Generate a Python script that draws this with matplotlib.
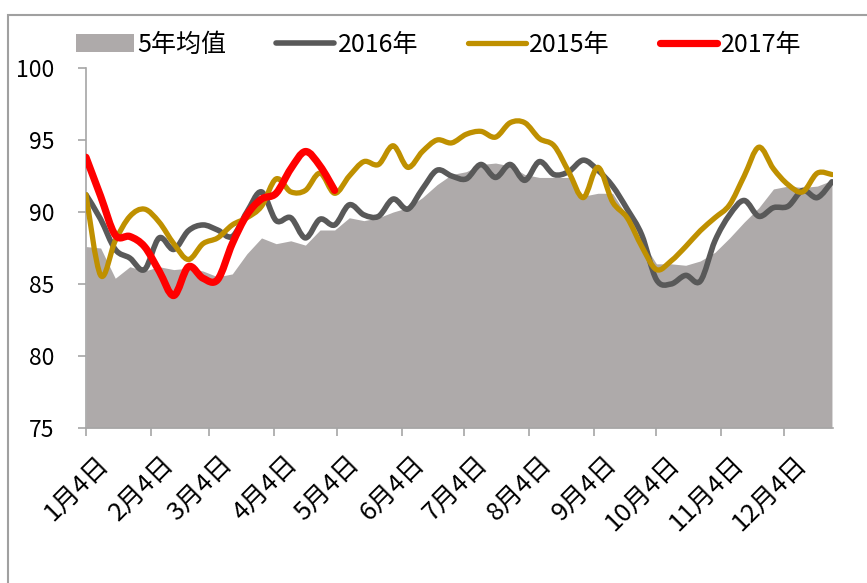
import matplotlib
matplotlib.use("Agg")
import matplotlib.pyplot as plt
import matplotlib.transforms as mtransforms
from matplotlib.path import Path
from matplotlib.patches import PathPatch, Patch, Rectangle
from matplotlib.lines import Line2D

plt.rcParams["font.family"] = ["Noto Sans CJK SC", "DejaVu Sans"]

# ── Datos (semanal, desde 1月4日) ─────────────────────────────────────────────
avg5 = [87.6, 87.5, 85.4, 86.2, 85.9, 86.2, 86.0, 86.1, 85.9, 85.5,
        85.7, 87.1, 88.2, 87.8, 88.0, 87.7, 88.75, 88.75, 89.6, 89.4,
        89.6, 90.0, 90.3, 91.0, 91.9, 92.6, 92.8, 93.3, 93.4, 93.2,
        92.6, 92.4, 92.4, 92.4, 91.1, 91.3, 91.3, 89.7, 88.0, 86.4,
        86.4, 86.3, 86.6, 87.2, 88.2, 89.3, 90.3, 91.6, 91.8, 91.7,
        91.8, 92.2]
y2016 = [91.2, 89.5, 87.4, 86.8, 86.0, 88.2, 87.4, 88.7, 89.1, 88.75,
         88.3, 90.0, 91.4, 89.4, 89.6, 88.2, 89.5, 89.1, 90.5, 89.8,
         89.7, 90.9, 90.2, 91.6, 92.9, 92.5, 92.3, 93.3, 92.4, 93.3,
         92.2, 93.5, 92.6, 92.8, 93.6, 92.9, 91.8, 90.2, 88.4, 85.3,
         85.0, 85.6, 85.2, 88.0, 89.8, 90.8, 89.7, 90.3, 90.4, 91.5,
         91.0, 92.1]
y2015 = [91.2, 85.6, 88.0, 89.7, 90.2, 89.3, 87.8, 86.7, 87.8, 88.2,
         89.1, 89.6, 90.4, 92.3, 91.4, 91.5, 92.7, 91.3, 92.5, 93.5,
         93.3, 94.6, 93.1, 94.2, 95.0, 94.8, 95.4, 95.6, 95.2, 96.2,
         96.2, 95.1, 94.6, 92.8, 91.0, 93.1, 90.7, 89.6, 87.6, 86.0,
         86.6, 87.6, 88.7, 89.6, 90.5, 92.5, 94.5, 93.0, 91.9, 91.4,
         92.7, 92.6]
y2017 = [93.8, 91.1, 88.4, 88.3, 87.6, 85.9, 84.2, 86.2, 85.4, 85.3,
         87.8, 89.8, 90.9, 91.3, 93.0, 94.2, 93.2, 91.5]

dias = [7 * i for i in range(len(avg5))]
tick_dias = [0, 31, 59, 90, 120, 151, 181, 212, 243, 273, 304, 334]
tick_labels = [f"{m}月4日" for m in range(1, 13)]

C_AVG = "#AEAAAA"
C_2016 = "#595959"
C_2015 = "#BF9000"
C_2017 = "#FF0000"


def curva_suave(xs, ys):
    """Path Bezier tipo 'línea suavizada' de Excel a partir de los puntos."""
    pts = list(zip(xs, ys))
    verts = [pts[0]]
    codes = [Path.MOVETO]
    n = len(pts)
    for i in range(n - 1):
        p0 = pts[i - 1] if i > 0 else pts[i]
        p1 = pts[i]
        p2 = pts[i + 1]
        p3 = pts[i + 2] if i + 2 < n else pts[i + 1]
        c1 = (p1[0] + (p2[0] - p0[0]) / 6, p1[1] + (p2[1] - p0[1]) / 6)
        c2 = (p2[0] - (p3[0] - p1[0]) / 6, p2[1] - (p3[1] - p1[1]) / 6)
        verts += [c1, c2, p2]
        codes += [Path.CURVE4] * 3
    return Path(verts, codes)


fig = plt.figure(figsize=(8.67, 5.83), dpi=100)
ax = fig.add_axes([86 / 867, 1 - 428 / 583, (833 - 86) / 867, (428 - 68) / 583])

ax.fill_between(dias, 75, avg5, color=C_AVG, linewidth=0, zorder=1)

for serie, color, lw, z in [(y2016, C_2016, 4.0, 2), (y2015, C_2015, 3.8, 3), (y2017, C_2017, 5.2, 4)]:
    path = curva_suave(dias[:len(serie)], serie)
    ax.add_patch(PathPatch(path, fill=False, edgecolor=color, linewidth=lw,
                           capstyle="round", joinstyle="round", zorder=z))

ax.set_xlim(0, 357.5)
ax.set_ylim(75, 100)
ax.set_yticks([75, 80, 85, 90, 95, 100])
ax.set_xticks(tick_dias)
ax.set_xticklabels(tick_labels, rotation=45, ha="right", rotation_mode="anchor")

for s in ["top", "right"]:
    ax.spines[s].set_visible(False)
for s in ["left", "bottom"]:
    ax.spines[s].set_color("#A6A6A6")
    ax.spines[s].set_linewidth(1.2)
ax.tick_params(axis="both", direction="out", length=6, width=1.2, color="#A6A6A6",
               labelcolor="black")
ax.tick_params(axis="y", labelsize=16.5, pad=17)
ax.tick_params(axis="x", labelsize=18.5, pad=2)

# desplazar etiquetas del eje x hacia la derecha y abajo, como en el original
offset = mtransforms.ScaledTranslation(10 / 100, -12 / 100, fig.dpi_scale_trans)
for lab in ax.get_xticklabels():
    lab.set_transform(lab.get_transform() + offset)

handles = [
    Patch(facecolor=C_AVG, edgecolor="none"),
    Line2D([], [], color=C_2016, linewidth=4.0, solid_capstyle="round"),
    Line2D([], [], color=C_2015, linewidth=3.8, solid_capstyle="round"),
    Line2D([], [], color=C_2017, linewidth=5.2, solid_capstyle="round"),
]
fig.legend(handles, ["5年均值", "2016年", "2015年", "2017年"],
           loc="center left", bbox_to_anchor=(76 / 867, 1 - 45 / 583),
           ncol=4, frameon=False, fontsize=18, handlelength=2.3,
           handleheight=0.75, handletextpad=0.15, columnspacing=2.0,
           borderpad=0, borderaxespad=0)

fig.patches.append(Rectangle((8 / 867, -0.05), 1.1, 1 - 15 / 583 + 0.05,
                             transform=fig.transFigure, fill=False,
                             edgecolor="#A0A0A0", linewidth=1.5))

fig.savefig("out.png", dpi=100)
